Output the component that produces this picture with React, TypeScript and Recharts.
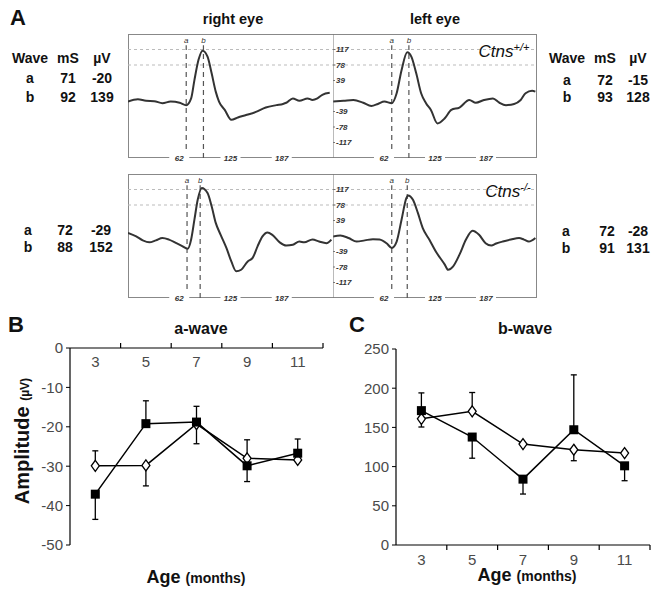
import React from 'react';
import { LineChart, Line, XAxis, YAxis, ReferenceLine, ErrorBar } from 'recharts';

// ERG traces, time in ms and amplitude in µV
const rightWtMs = [0, 12, 22, 32, 42, 52, 63, 71, 77, 81, 86, 91, 97, 102, 107, 111, 118, 126, 134, 144, 156, 168, 181, 189, 193, 201, 209, 219, 225, 231, 237, 246];
const rightWtUv = [-14, -8, -12, -13, -18, -14, -17, -23, -6, 40, 91, 114, 99, 57, 11, -14, -35, -60, -54, -48, -40, -29, -23, -20, -17, -6, -12, -6, -10, -6, 3, 8];
const leftWtMs = [0, 13, 25, 37, 47, 55, 63, 72, 78, 84, 91, 96, 102, 108, 114, 120, 128, 137, 145, 155, 167, 175, 185, 196, 204, 212, 222, 230, 236, 244, 248];
const leftWtUv = [-14, -12, -10, -17, -25, -20, -14, -18, 7, 65, 110, 99, 57, 7, -18, -35, -69, -56, -35, -29, -10, -17, -10, -6, -17, -23, -20, -10, 7, 13, 11];
const rightKoMs = [0, 10, 18, 26, 34, 42, 50, 59, 65, 73, 77, 81, 85, 90, 97, 102, 107, 113, 120, 126, 132, 138, 146, 152, 158, 164, 170, 176, 185, 193, 201, 209, 215, 225, 233, 242, 248];
const rightKoUv = [8, -1, -11, -16, -11, -5, -9, -18, -24, -32, -9, 41, 91, 121, 108, 75, 33, 3, -30, -64, -89, -85, -64, -55, -26, -1, 9, 3, -16, -24, -22, -14, -16, -9, -14, -18, -9];
const leftKoMs = [0, 9, 19, 29, 39, 49, 57, 66, 72, 78, 84, 90, 92, 98, 104, 110, 118, 126, 137, 141, 147, 155, 163, 171, 179, 187, 194, 200, 208, 218, 228, 234, 240, 248];
const leftKoUv = [-1, 1, -5, -14, -11, -8, -9, -19, -30, -14, 41, 96, 102, 91, 58, 20, -9, -39, -72, -85, -77, -47, -9, 13, 3, -18, -24, -19, -14, -9, -5, -9, -14, -5];

// wave tables: implicit time (mS) and amplitude (µV)
const waveHeader = ['Wave', 'mS', 'µV'];
const rightWtTable = [['a', '71', '-20'], ['b', '92', '139']];
const leftWtTable = [['a', '72', '-15'], ['b', '93', '128']];
const rightKoTable = [['a', '72', '-29'], ['b', '88', '152']];
const leftKoTable = [['a', '72', '-28'], ['b', '91', '131']];

const ergXTicks = [62.5, 125, 187.5];
const ergYTicks = [-117, -78, -39, 39, 78, 117];
const ergGrid = [117, 78];

// B / C summary
const ages = [3, 5, 7, 9, 11];
const ageTicks = [3, 4, 5, 6, 7, 8, 9, 10, 11, 12];
const aWaveKo = [-37.1, -19.2, -18.8, -29.9, -26.7];
const aWaveKoErr = [[6.4, 0], [0, 5.8], [0, 4], [4, 0], [0, 3.6]];
const aWaveWt = [-29.9, -29.8, -19.3, -28, -28.4];
const aWaveWtErr = [[0, 3.8], [5.2, 0], [5, 0], [0, 4.7], [0, 0]];
const bWaveKo = [171.4, 137.7, 84, 147, 101];
const bWaveKoErr = [[0, 22.6], [27, 0], [19, 0], [0, 70], [19, 0]];
const bWaveWt = [161, 170.5, 128.8, 121.5, 117.3];
const bWaveWtErr = [[10.5, 0], [0, 24], [0, 0], [14, 0], [0, 0]];
const aWaveTicks = [-50, -40, -30, -20, -10, 0];
const bWaveTicks = [0, 50, 100, 150, 200, 250];

const FONT = 'Arial, "Liberation Sans", Helvetica, sans-serif';

const T = ({ x, y, size, bold = true, italic = false, rotate = false, color = '#111', children }: any) => (
  <div
    style={{
      position: 'absolute', left: x, top: y, whiteSpace: 'nowrap', lineHeight: 1,
      transform: `translate(-50%,-50%)${rotate ? ' rotate(-90deg)' : ''}`,
      fontSize: size, fontWeight: bold ? 'bold' : 'normal', fontStyle: italic ? 'italic' : 'normal', color,
    }}
  >
    {children}
  </div>
);

const WaveTable = ({ cols, rows, header }: any) => (
  <>
    {header && waveHeader.map((h, i) => <T key={'h' + i} x={cols[i]} y={header} size={14}>{h}</T>)}
    {rows.vals.map((r: string[], j: number) =>
      r.map((c, i) => <T key={j + '-' + i} x={cols[i]} y={rows.y[j]} size={14}>{c}</T>)
    )}
  </>
);

const ErgTick = ({ x, y, payload }: any) => (
  <g>
    <rect x={x - 10} y={y - 5} width={20} height={10} fill="#fff" />
    <text x={x} y={y + 3} textAnchor="middle" fontSize={8} fontStyle="italic" fontWeight="bold" fill="#333">
      {Math.floor(payload.value)}
    </text>
  </g>
);

function Trace({ ms, uv, a, b, withAxis, width }: any) {
  const data = ms.map((t: number, i: number) => ({ t, v: uv[i] }));
  return (
    <LineChart width={width} height={132} data={data} margin={{ top: 0, right: 0, bottom: 0, left: 0 }}>
      <XAxis dataKey="t" type="number" domain={[0, 250]} ticks={ergXTicks} interval={0} height={8}
        axisLine={false} tickLine={false} tickSize={0} tickMargin={0} tick={<ErgTick />} />
      {withAxis ? (
        <YAxis type="number" domain={[-156, 156]} ticks={ergYTicks} interval={0} mirror width={30}
          axisLine={{ stroke: '#777' }} tickLine={{ stroke: '#777' }} tickSize={2} tickMargin={1}
          tick={{ fontSize: 8, fontStyle: 'italic', fontWeight: 'bold', fill: '#333' }} />
      ) : (
        <YAxis type="number" domain={[-156, 156]} hide />
      )}
      {ergGrid.map((g) => (
        <ReferenceLine key={g} y={g} stroke="#bbb" strokeDasharray="3 3" />
      ))}
      {[['a', a], ['b', b]].map(([name, t]: any) => (
        <ReferenceLine key={name} segment={[{ x: t, y: -156 }, { x: t, y: 128 }]} stroke="#555"
          strokeWidth={1.2} strokeDasharray="5 4"
          label={{ value: name, position: 'top', offset: 2, fontSize: 8, fontStyle: 'italic', fill: '#333' }} />
      ))}
      <Line type="monotone" dataKey="v" stroke="#333" strokeWidth={2} dot={false} isAnimationActive={false} />
    </LineChart>
  );
}

const Square = ({ cx, cy, index }: any) => (
  <rect key={'s' + index} x={cx - 4.5} y={cy - 4.5} width={9} height={9} fill="#000" />
);
const Diamond = ({ cx, cy, index }: any) => (
  <path key={'d' + index} d={`M${cx},${cy - 5.5}L${cx + 4},${cy}L${cx},${cy + 5.5}L${cx - 4},${cy}Z`}
    fill="#fff" stroke="#000" strokeWidth={1.3} />
);

const AgeTick = ({ x, y, payload, top }: any) => {
  const v = payload.value;
  if (v % 2 === 0) {
    return <line x1={x} x2={x} y1={y} y2={top ? y - 5 : y + 5} stroke="#000" strokeWidth={1.2} />;
  }
  return (
    <text x={x} y={top ? y + 19 : y + 20} textAnchor="middle" fontSize={15} fill="#4a4a4a">{v}</text>
  );
};

function Summary({ ko, koErr, wt, wtErr, domain, ticks, top, width, height, margin }: any) {
  const data = ages.map((age, i) => ({ age, ko: ko[i], koErr: koErr[i], wt: wt[i], wtErr: wtErr[i] }));
  return (
    <LineChart width={width} height={height} data={data} margin={margin}>
      <XAxis dataKey="age" type="number" domain={[2, 12]} ticks={ageTicks} interval={0}
        orientation={top ? 'top' : 'bottom'} height={top ? 18 : 30}
        axisLine={{ stroke: '#000', strokeWidth: 1.2 }} tickLine={false} tickSize={0} tickMargin={0}
        tick={(p: any) => <AgeTick {...p} top={top} />} />
      <YAxis type="number" domain={domain} ticks={ticks} interval={0} width={50}
        axisLine={{ stroke: '#000', strokeWidth: 1.2 }} tickLine={{ stroke: '#000' }} tickSize={4} tickMargin={3}
        tick={{ fontSize: 15, fill: '#4a4a4a' }} />
      <Line dataKey="wt" stroke="#000" strokeWidth={1.5} dot={Diamond} isAnimationActive={false}>
        <ErrorBar dataKey="wtErr" direction="y" width={3} stroke="#000" strokeWidth={1.3} />
      </Line>
      <Line dataKey="ko" stroke="#000" strokeWidth={1.5} dot={Square} isAnimationActive={false}>
        <ErrorBar dataKey="koErr" direction="y" width={3} stroke="#000" strokeWidth={1.3} />
      </Line>
    </LineChart>
  );
}

const AgeLabel = ({ x, y }: any) => (
  <T x={x} y={y} size={18}>Age <span style={{ fontSize: 14 }}>(months)</span></T>
);

export default function App() {
  const box = (top: number) => (
    <div style={{ position: 'absolute', left: 128, top, width: 409, height: 124, border: '1px solid #888', boxSizing: 'border-box' }} />
  );
  return (
    <div style={{ position: 'absolute', left: 0, top: 0, width: 651, height: 594, background: '#fff', fontFamily: FONT, overflow: 'hidden' }}>
      {/* panel A */}
      <T x={18} y={18} size={22}>A</T>
      <T x={233} y={19} size={14.5}>right eye</T>
      <T x={435} y={19} size={14.5}>left eye</T>

      {box(34)}
      <div style={{ position: 'absolute', left: 128, top: 34 }}>
        <Trace ms={rightWtMs} uv={rightWtUv} a={71} b={92} width={205} />
      </div>
      <div style={{ position: 'absolute', left: 333, top: 34 }}>
        <Trace ms={leftWtMs} uv={leftWtUv} a={72} b={93} width={204} withAxis />
      </div>
      <T x={504} y={51} size={17} bold={false} italic>Ctns<span style={{ fontSize: 11, verticalAlign: '0.55em' }}>+/+</span></T>

      {box(174)}
      <div style={{ position: 'absolute', left: 128, top: 174 }}>
        <Trace ms={rightKoMs} uv={rightKoUv} a={72} b={88} width={205} />
      </div>
      <div style={{ position: 'absolute', left: 333, top: 174 }}>
        <Trace ms={leftKoMs} uv={leftKoUv} a={72} b={91} width={204} withAxis />
      </div>
      <T x={508} y={191} size={17} bold={false} italic>Ctns<span style={{ fontSize: 11, verticalAlign: '0.55em' }}>-/-</span></T>

      <WaveTable cols={[30, 68, 102]} header={58} rows={{ vals: rightWtTable, y: [77.5, 96.5] }} />
      <WaveTable cols={[567, 605, 638]} header={58} rows={{ vals: leftWtTable, y: [80, 97] }} />
      <WaveTable cols={[28, 65, 101]} rows={{ vals: rightKoTable, y: [230, 247] }} />
      <WaveTable cols={[566, 607, 638]} rows={{ vals: leftKoTable, y: [231, 248] }} />

      {/* panel B */}
      <T x={16} y={325} size={22}>B</T>
      <T x={201} y={329} size={16}>a-wave</T>
      <div style={{ position: 'absolute', left: 20, top: 330 }}>
        <Summary ko={aWaveKo} koErr={aWaveKoErr} wt={aWaveWt} wtErr={aWaveWtErr} domain={[-50, 0]} ticks={aWaveTicks}
          top width={310} height={222} margin={{ top: 0, right: 7, bottom: 7, left: 0 }} />
      </div>
      <T x={22} y={441} size={20} rotate>Amplitude <span style={{ fontSize: 12 }}>(µV)</span></T>
      <AgeLabel x={196} y={577} />

      {/* panel C */}
      <T x={357} y={325} size={22}>C</T>
      <T x={525} y={329} size={16}>b-wave</T>
      <div style={{ position: 'absolute', left: 346, top: 340 }}>
        <Summary ko={bWaveKo} koErr={bWaveKoErr} wt={bWaveWt} wtErr={bWaveWtErr} domain={[0, 250]} ticks={bWaveTicks}
          width={305} height={235} margin={{ top: 9, right: 1, bottom: 0, left: 0 }} />
      </div>
      <AgeLabel x={527} y={575} />
    </div>
  );
}
